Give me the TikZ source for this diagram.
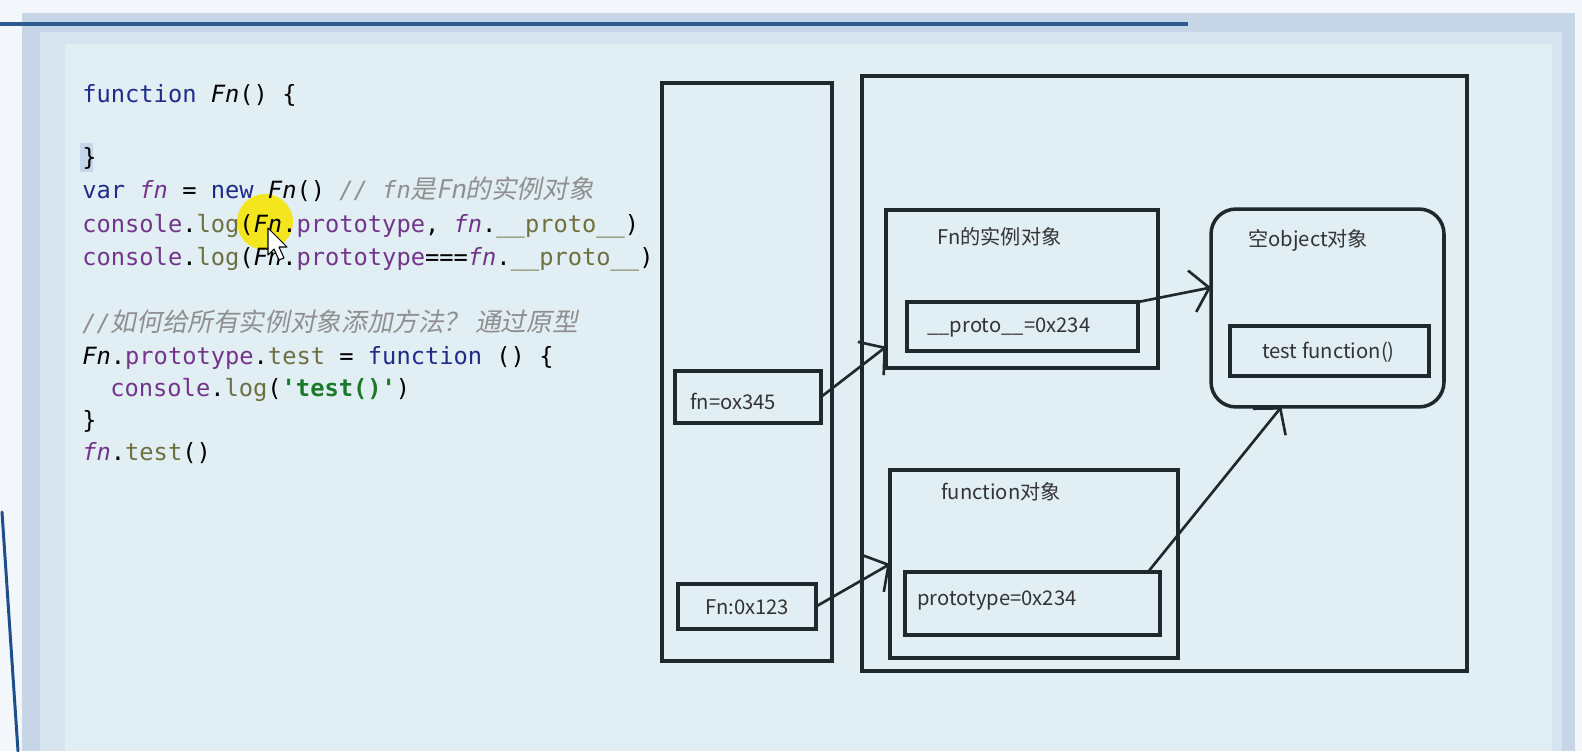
\documentclass[tikz,border=0pt]{standalone}
\usepackage{fontspec}
\setmonofont{DejaVu Sans Mono}
\newfontfamily\cjk{Noto Sans CJK SC}
\newfontfamily\cjkit{Noto Sans CJK SC}[FakeSlant=0.2,Scale=1.08]
\usetikzlibrary{positioning, arrows.meta, calc}
\definecolor{pagebg}{HTML}{F3F6FB}
\definecolor{panelout}{HTML}{C6D6E7}
\definecolor{panelmid}{HTML}{D6E4EF}
\definecolor{panelin}{HTML}{E1EEF4}
\definecolor{barblue}{HTML}{2C5A8E}
\definecolor{penblue}{HTML}{1D4F8C}
\definecolor{boxline}{HTML}{1F292D}
\definecolor{labelgray}{HTML}{333333}
\definecolor{kwblue}{HTML}{1F2C88}
\definecolor{purp}{HTML}{73358A}
\definecolor{olivec}{HTML}{6F6F40}
\definecolor{strgreen}{HTML}{1A7A2A}
\definecolor{cmtgray}{HTML}{8F8F8F}
\definecolor{selblue}{HTML}{C5D6EA}
\definecolor{hiyellow}{HTML}{F3E51E}
\newcommand{\kwd}[1]{{\color{kwblue}#1}}
\newcommand{\pv}[1]{{\color{purp}#1}}
\newcommand{\fnv}[1]{{\color{purp}\itshape #1}}
\newcommand{\olv}[1]{{\color{olivec}#1}}
\newcommand{\cmt}[1]{{\color{cmtgray}#1}}
\newcommand{\strg}[1]{{\color{strgreen}\bfseries #1}}
\tikzset{
  membox/.style={draw=boxline, line width=2pt, inner sep=0pt, outer sep=0pt},
  codeline/.style={anchor=base west, inner sep=0pt, font=\fontsize{13.5pt}{16pt}\ttfamily},
  memlabel/.style={anchor=west, inner sep=0pt, text=labelgray, font=\fontsize{11.5pt}{14pt}\cjk},
  hand/.style={line width=1.5pt, draw=boxline, -{Straight Barb[length=10pt,width=24pt,line width=1.5pt]}}
}

\begin{document}
\begin{tikzpicture}[x=0.02cm, y=-0.02cm]
	\useasboundingbox (0,0) rectangle (1582,751);
	
	% Draw slide background
	\fill[pagebg] (0,0) rectangle (1582,751);
	\fill[panelout] (22,13) rectangle (1575,751);
	\fill[panelmid] (40,32) rectangle (1562,751);
	\fill[panelin] (65,44) rectangle (1552,751);
	\draw[barblue, line width=2.3pt] (0,24) -- (1188,24);
	\draw[penblue, line width=1.7pt, line cap=round] (2,512) -- (18,751);
	
	% Highlight and cursor
	\fill[selblue] (80,143) rectangle (93,172);
	\fill[hiyellow] (265,222) circle (28);
	
	% Code lines
	\node[codeline] (l1) at (82,102) {\kwd{function} {\itshape Fn}() \{};
	\node[codeline] (l2) at (82,165) {\}};
	\node[codeline] (l3) at (82,198) {\kwd{var} \fnv{fn} = \kwd{new} {\itshape Fn}() \cmt{{\itshape // fn}{\cjkit 是Fn的实例对象}}};
	\node[codeline] (l4) at (82,232) {\pv{console}.\olv{log}({\itshape Fn}.\pv{prototype}, \fnv{fn}.\olv{\_\_proto\_\_})};
	\node[codeline] (l5) at (82,265) {\pv{console}.\olv{log}({\itshape Fn}.\pv{prototype}===\fnv{fn}.\olv{\_\_proto\_\_})};
	\node[codeline] (l6) at (82,331) {\cmt{{\itshape //}{\cjkit 如何给所有实例对象添加方法？ 通过原型}}};
	\node[codeline] (l7) at (82,364) {{\itshape Fn}.\pv{prototype}.\olv{test} = \kwd{function} () \{};
	\node[codeline] (l8) at (110,396) {\pv{console}.\olv{log}(\strg{\textquotesingle test()\textquotesingle})};
	\node[codeline] (l9) at (82,428) {\}};
	\node[codeline] (l10) at (82,460) {\fnv{fn}.\olv{test}()};
	
	\draw[black, line width=0.6pt, fill=white, line join=round] (268,228) -- (268,255) -- (274,249) -- (279,260) -- (284,258) -- (279,247) -- (287,247) -- cycle;
	
	% Memory boxes
	\foreach \n/\x/\y/\w/\h in {stack/747/372/3.4/11.56, heap/1164.5/373.5/12.1/11.9,
		inst/1022/289/5.44/3.16, protobox/1022.5/326.5/4.62/0.98,
		testbox/1329.5/351/3.98/1.0, fnobj/1034/564/5.76/3.76,
		ptbox/1032.5/603.5/5.1/1.26, fnvar/748/397/2.92/1.04, Fnvar/747/606.5/2.76/0.9}
	\node[membox, minimum width=\w cm, minimum height=\h cm] (\n) at (\x,\y) {};
	\node[membox, rounded corners=0.5cm, minimum width=4.66cm, minimum height=3.96cm] (emptyobj) at (1327.5,308) {};
	
	% Add labels
	\node[memlabel] (instlbl) at (937,237) {Fn的实例对象};
	\node[memlabel] (protolbl) at (927,327) {\_\_proto\_\_=0x234};
	\node[memlabel] (emptylbl) at (1248,240) {空object对象};
	\node[memlabel] (testlbl) at (1262,352) {test function()};
	\node[memlabel] (fnobjlbl) at (941,492) {function对象};
	\node[memlabel] (ptlbl) at (917,601) {prototype=0x234};
	\node[memlabel] (fnvarlbl) at (690,401) {fn=ox345};
	\node[memlabel] (Fnvarlbl) at (705,607) {Fn:0x123};
	
	% Pointers
	\draw[hand] (fnvar.east) -- (inst.203);
	\draw[hand] (Fnvar.east) -- (fnobj.west);
	\draw[hand] (protobox.north east) -- (emptyobj.170);
	\draw[hand] ($(ptbox.north east)+(-12,0)$) -- (emptyobj.245);
	
\end{tikzpicture}
\end{document}
